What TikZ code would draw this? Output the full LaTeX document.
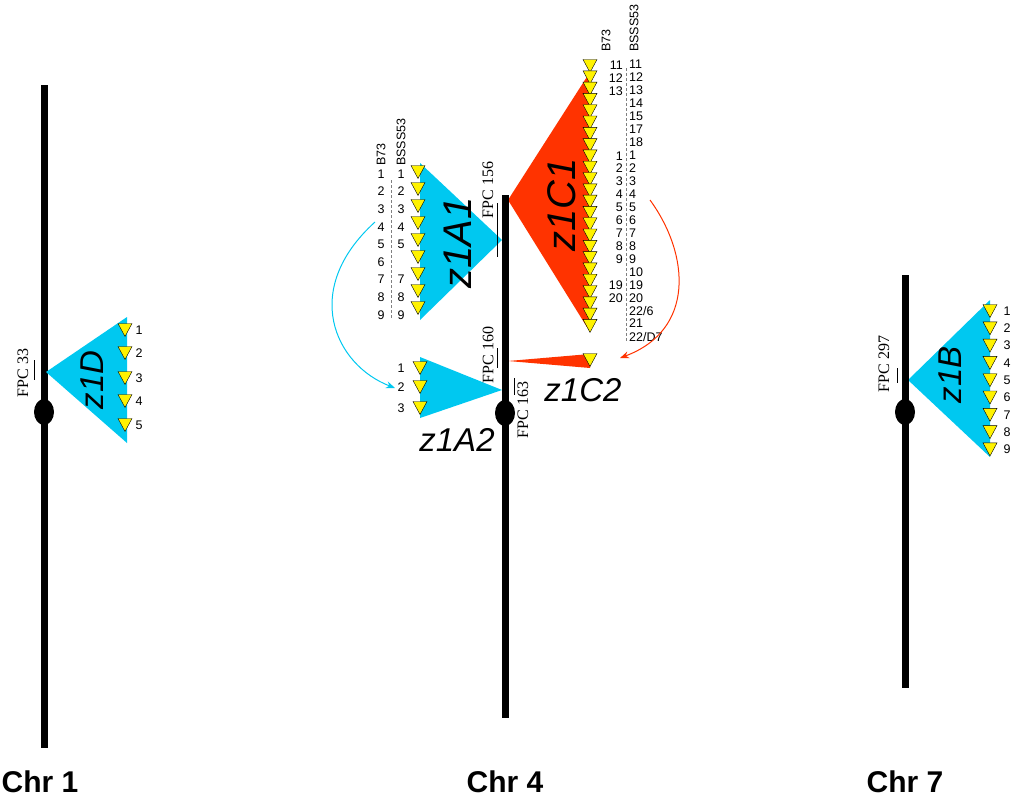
\documentclass[tikz,border=0pt]{standalone}
\usepackage{fontspec}
\setmainfont{Liberation Sans}
\newfontfamily\serifx{Liberation Serif}
\usetikzlibrary{arrows.meta}
\definecolor{cy}{HTML}{00C8F0}
\definecolor{rd}{HTML}{FF3300}
\begin{document}
\begin{tikzpicture}[x=1pt,y=-1pt,
  chr/.style={line width=7pt},
  cen/.style={fill=black,draw=none},
  num/.style={font=\fontsize{12.5}{12.5}\selectfont,inner sep=0},
  big/.style={font=\fontsize{33}{33}\selectfont\itshape,inner sep=0},
  bigg/.style={font=\fontsize{40}{40}\selectfont\itshape,inner sep=0},
  fpc/.style={font=\fontsize{16}{16}\selectfont\serifx,rotate=90,inner sep=0},
  bar/.style={line width=1pt},
  chrl/.style={font=\fontsize{30}{30}\selectfont\bfseries,inner sep=0}]
\useasboundingbox (0,0) rectangle (1016,800);
\newcommand{\yt}[2]{\fill[yellow,draw=black,line width=0.4pt] (#1-7,#2-6.5) -- (#1+7,#2-6.5) -- (#1,#2+6.5) -- cycle;}
% Chr 1
\draw[chr] (44,85) -- (44,748);
\fill[cy] (46,372) -- (127,317) -- (127,443) -- cycle;
\foreach \y/\t in {330/1,353/2,378/3,401/4,425/5}{\yt{125}{\y}\node[num] at (139,\y) {\t};}
\node[big,rotate=90] (z1d) at (92,380) {z1D};
\node[fpc] (f33) at (23,373) {FPC 33};
\draw[bar] (34,360) -- (34,380);
\fill[cen] (44,412) ellipse (10 and 13);
\node[chrl] (c1) at (40,782) {Chr 1};
% Chr 4
\fill[cy] (502,240) -- (420,163) -- (420,320) -- cycle;
\fill[rd] (508,200) -- (590,72) -- (590,332) -- cycle;
\fill[rd] (508,361) -- (590,354) -- (590,368) -- cycle;
\fill[cy] (502,390) -- (420,357) -- (420,418) -- cycle;
\draw[chr] (505,195) -- (505,718);
\fill[cen] (505,413) ellipse (10 and 13);
\foreach \i in {0,...,8}{\yt{418}{172+\i*17}}
\foreach \i/\a/\b in {0/1/1,1/2/2,2/3/3,3/4/4,4/5/5,5/6/,6/7/7,7/8/8,8/9/9}{
  \node[num] at (381,174+\i*17.6) {\a};\node[num] at (401,174+\i*17.6) {\b};}
\draw[densely dashed,gray,line width=0.4pt] (391,180) -- (391,318);
\node[num,rotate=90,anchor=west] at (381,166) {B73};
\node[num,rotate=90,anchor=west] at (401,166) {BSSS53};
\node[bigg,rotate=90] (z1a1) at (458,243) {z1A1};
\node[bigg,rotate=90] (z1c1) at (562,205) {z1C1};
\foreach \i in {0,...,23}{\yt{590}{66+\i*11.3}}
\yt{590}{360}
\foreach \y/\t in {65/11,78/12,91/13,156/1,168/2,181/3,194/4,207/5,220/6,233/7,246/8,259/9,285/19,298/20}
  {\node[num,anchor=east] at (623,\y) {\t};}
\foreach \y/\t in {64/11,77/12,90/13,103/14,116/15,129/17,142/18,155/1,168/2,181/3,194/4,207/5,220/6,233/7,246/8,259/9,272/10,285/19,298/20,311/{22/6},323/21,337/{22/D7}}
  {\node[num,anchor=west] at (629,\y) {\t};}
\draw[densely dashed,gray,line width=0.4pt] (626,68) -- (626,342);
\node[num,rotate=90,anchor=west] at (606,52) {B73};
\node[num,rotate=90,anchor=west] at (634,52) {BSSS53};
\foreach \y/\t in {368/1,387/2,408/3}{\yt{420}{\y}\node[num] at (401,\y) {\t};}
\node[big] (z1c2) at (583,390) {z1C2};
\node[big] (z1a2) at (457,440) {z1A2};
\node[fpc] (f156) at (488,190) {FPC 156};
\draw[bar] (497,203) -- (497,257);
\node[fpc] (f160) at (488,355) {FPC 160};
\draw[bar] (497,348) -- (497,368);
\node[fpc] (f163) at (523,410) {FPC 163};
\draw[bar] (514,378) -- (514,395);
\coordinate (a1) at (375,222); \coordinate (a2) at (395,388);
\draw[cy,line width=1pt,-{Stealth[length=9pt,width=7pt]}] (a1) .. controls (300,290) and (335,365) .. (a2);
\coordinate (b1) at (650,200); \coordinate (b2) at (620,358);
\draw[rd,line width=1pt,-{Stealth[length=9pt,width=7pt]}] (b1) .. controls (690,255) and (695,330) .. (b2);
\node[chrl] (c4) at (505,782) {Chr 4};
% Chr 7
\fill[cy] (908,380) -- (990,300) -- (990,457) -- cycle;
\draw[chr] (905,275) -- (905,688);
\fill[cen] (905,412) ellipse (10 and 13);
\foreach \i in {0,...,8}{\yt{990}{311+\i*17.3}\node[num] at (1007,311+\i*17.3) {\the\numexpr\i+1\relax};}
\node[big,rotate=90] (z1b) at (950,375) {z1B};
\node[fpc] (f297) at (884,364) {FPC 297};
\draw[bar] (897,368) -- (897,383);
\node[chrl] (c7) at (905,782) {Chr 7};
\end{tikzpicture}
\end{document}
